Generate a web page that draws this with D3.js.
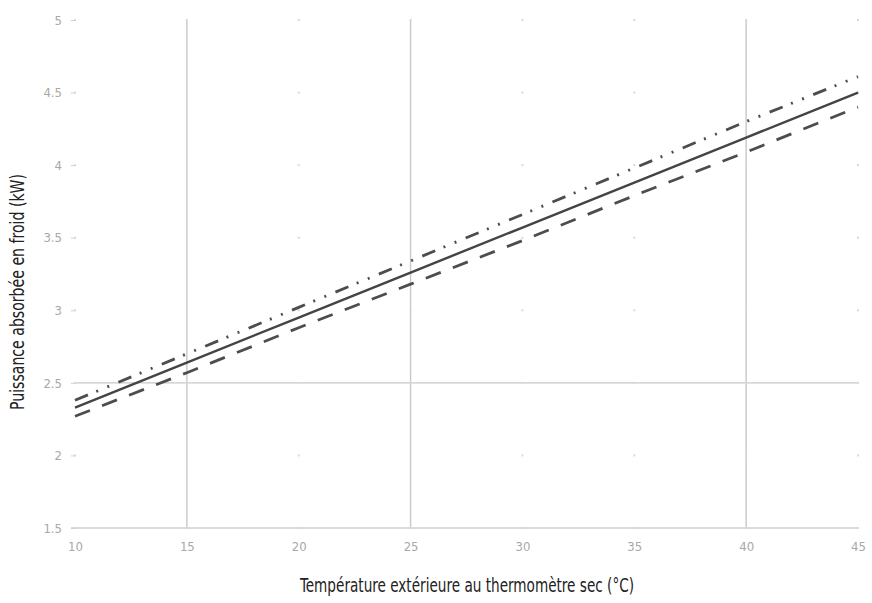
<!DOCTYPE html>
<html>
<head>
<meta charset="utf-8">
<script src="https://cdn.jsdelivr.net/npm/d3@7"></script>
<style>
  body { margin: 0; background: #fff; }
  svg { display: block; }
</style>
</head>
<body>
<div id="chart"></div>
<script>
// ── Data ────────────────────────────────────────────────────────────────
const TEMPS      = [10, 15, 20, 25, 30, 35, 40, 45];
const NOMINAL    = [2.33, 2.64, 2.95, 3.26, 3.57, 3.88, 4.19, 4.50];
const LOWER      = [2.27, 2.57, 2.88, 3.18, 3.48, 3.79, 4.09, 4.40];
const UPPER      = [2.38, 2.70, 3.02, 3.34, 3.66, 3.98, 4.30, 4.61];
const X_TICKS    = [10, 15, 20, 25, 30, 35, 40, 45];
const Y_TICKS    = [1.5, 2, 2.5, 3, 3.5, 4, 4.5, 5];
const X_GRID     = [15, 25, 40];
const Y_GRID     = [2.5];

const W = 872, H = 603;
const margin = { top: 20, right: 14, bottom: 75, left: 75 };
const width  = W - margin.left - margin.right;
const height = H - margin.top - margin.bottom;

const FONT = "'DejaVu Sans Condensed', 'Liberation Sans', sans-serif";

const svg = d3.select("#chart").append("svg")
    .attr("width", W)
    .attr("height", H);

const g = svg.append("g")
    .attr("transform", `translate(${margin.left},${margin.top})`);

// ── Scales ──────────────────────────────────────────────────────────────
const x = d3.scaleLinear().domain([10, 45]).range([0, width]);
const y = d3.scaleLinear().domain([1.5, 5]).range([height, 0]);

// ── Grid ────────────────────────────────────────────────────────────────
g.append("g").selectAll("line")
    .data(X_GRID)
    .join("line")
    .attr("x1", d => x(d)).attr("x2", d => x(d))
    .attr("y1", 0).attr("y2", height)
    .style("stroke", "#c8c8c8")
    .style("stroke-width", 1.4);

g.append("g").selectAll("line")
    .data(Y_GRID)
    .join("line")
    .attr("x1", 0).attr("x2", width)
    .attr("y1", d => y(d)).attr("y2", d => y(d))
    .style("stroke", "#c8c8c8")
    .style("stroke-width", 1.4);

// baseline
g.append("line")
    .attr("x1", -4).attr("x2", width)
    .attr("y1", y(1.5)).attr("y2", y(1.5))
    .style("stroke", "#cfcfcf")
    .style("stroke-width", 1.4);

// small dots at grid intersections
const dots = [];
X_TICKS.forEach(t => Y_TICKS.forEach(v => dots.push({ t, v })));
g.append("g").selectAll("rect")
    .data(dots)
    .join("rect")
    .attr("x", d => x(d.t) - 1)
    .attr("y", d => y(d.v) - 1)
    .attr("width", 2).attr("height", 2)
    .style("fill", "#d8d8d8");

// ── Axes ────────────────────────────────────────────────────────────────
const xAxis = g.append("g")
    .attr("transform", `translate(0,${height})`)
    .call(d3.axisBottom(x).tickValues(X_TICKS).tickSize(0).tickPadding(14).tickFormat(d3.format("d")));
xAxis.select(".domain").remove();
xAxis.selectAll("text")
    .style("font-family", FONT)
    .style("font-size", "13px")
    .style("fill", "#a8a8a8");

const yAxis = g.append("g")
    .call(d3.axisLeft(y).tickValues(Y_TICKS).tickSize(4).tickPadding(9).tickFormat(d => d));
yAxis.select(".domain").remove();
yAxis.selectAll("line").style("stroke", "#d0d0d0");
yAxis.selectAll("text")
    .style("font-family", FONT)
    .style("font-size", "13px")
    .style("fill", "#a8a8a8");

// ── Lines ───────────────────────────────────────────────────────────────
const line = vals => d3.line()
    .x((d, i) => x(TEMPS[i]))
    .y(d => y(d))(vals);

g.append("path")
    .attr("d", line(UPPER))
    .style("fill", "none")
    .style("stroke", "#4d4d4d")
    .style("stroke-width", 2.8)
    .style("stroke-dasharray", "14,9,2,10,2,10");

g.append("path")
    .attr("d", line(LOWER))
    .style("fill", "none")
    .style("stroke", "#4d4d4d")
    .style("stroke-width", 2.8)
    .style("stroke-dasharray", "16,13");

g.append("path")
    .attr("d", line(NOMINAL))
    .style("fill", "none")
    .style("stroke", "#444")
    .style("stroke-width", 2.4);

// ── Titles ──────────────────────────────────────────────────────────────
svg.append("text")
    .attr("x", 467)
    .attr("y", 592)
    .attr("textLength", 334)
    .attr("lengthAdjust", "spacingAndGlyphs")
    .style("text-anchor", "middle")
    .style("font-family", FONT)
    .style("font-size", "19px")
    .style("fill", "#222")
    .text("Température extérieure au thermomètre sec (°C)");

svg.append("text")
    .attr("transform", "rotate(-90)")
    .attr("x", -292)
    .attr("y", 24)
    .attr("textLength", 236)
    .attr("lengthAdjust", "spacingAndGlyphs")
    .style("text-anchor", "middle")
    .style("font-family", FONT)
    .style("font-size", "19px")
    .style("fill", "#222")
    .text("Puissance absorbée en froid (kW)");
</script>
</body>
</html>
